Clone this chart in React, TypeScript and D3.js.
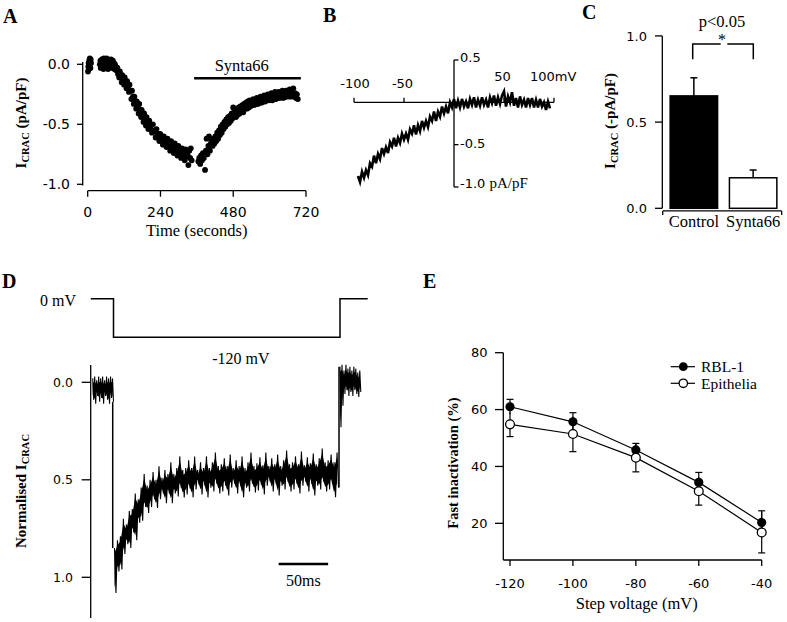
import React from 'react';
import * as d3 from 'd3';

const SERIF = '"Liberation Serif", "Times New Roman", serif';
const SANS = '"DejaVu Sans", Verdana, sans-serif';

// ---------- Panel A: I_CRAC vs time ----------
const timeTicksA = [0, 240, 480, 720];
const currentTicksA = [0, -0.5, -1.0];
const syntaWindowA = [351, 703];
const scatterA: [number, number][] = [
  [1, -0.06], [2, -0.02], [3, 0.01], [4, -0.04], [5, 0.03], [6, 0.0], [7, 0.05], [8, 0.02], [9, -0.03], [10, 0.04], [11, 0.01],
  [40, 0.0], [42, 0.03], [43, -0.03], [45, 0.01], [47, 0.04], [48, -0.02], [50, 0.02], [52, -0.04], [53, 0.05], [55, 0.0],
  [57, 0.03], [58, -0.03], [60, 0.01], [62, 0.05], [63, -0.02], [65, 0.02], [67, -0.04], [68, 0.04], [70, 0.0], [72, 0.03],
  [73, -0.03], [75, 0.01], [77, 0.04], [78, -0.02], [80, 0.02], [82, -0.01], [83, 0.03], [85, -0.03], [87, 0.01], [88, -0.04],
  [90, 0.0], [92, -0.02], [94, -0.05], [96, -0.03],
  [98, -0.03], [100, -0.08], [102, -0.06], [104, -0.11], [106, -0.06], [108, -0.1], [110, -0.09], [112, -0.15], [114, -0.09],
  [116, -0.13], [118, -0.12], [120, -0.17], [122, -0.11], [124, -0.16], [126, -0.14], [128, -0.2], [130, -0.14], [132, -0.19],
  [134, -0.17], [136, -0.23], [138, -0.17], [140, -0.22], [142, -0.22], [144, -0.29], [146, -0.22], [148, -0.28], [150, -0.27],
  [152, -0.33], [154, -0.27], [156, -0.32], [158, -0.31], [160, -0.37], [162, -0.31], [164, -0.36], [166, -0.34], [168, -0.41],
  [170, -0.33], [172, -0.39], [174, -0.38], [176, -0.44], [178, -0.38], [180, -0.43], [182, -0.41], [184, -0.48], [186, -0.41],
  [188, -0.46], [190, -0.45], [192, -0.51], [194, -0.44], [196, -0.5], [198, -0.48], [200, -0.54], [203, -0.47], [206, -0.53],
  [209, -0.51], [212, -0.57], [215, -0.5], [218, -0.56], [221, -0.55], [224, -0.61], [227, -0.54], [230, -0.6], [233, -0.58],
  [236, -0.64], [239, -0.58], [242, -0.63], [245, -0.6], [248, -0.67], [251, -0.6], [254, -0.66], [257, -0.63], [260, -0.69],
  [263, -0.62], [266, -0.68], [269, -0.66], [272, -0.72], [275, -0.64], [278, -0.7], [281, -0.68], [284, -0.74], [287, -0.66],
  [290, -0.72], [293, -0.7], [296, -0.76], [299, -0.68], [302, -0.74], [305, -0.72], [308, -0.78], [311, -0.7], [314, -0.76],
  [317, -0.73], [320, -0.8], [323, -0.71], [326, -0.77], [329, -0.75], [332, -0.84], [335, -0.72], [338, -0.78], [340, -0.7],
  [343, -0.8],
  [365, -0.81], [368, -0.78], [371, -0.83], [374, -0.76], [377, -0.8], [380, -0.74], [383, -0.78], [387, -0.88], [390, -0.72],
  [392, -0.62], [395, -0.75], [398, -0.68], [400, -0.6], [403, -0.72], [406, -0.66], [409, -0.63], [412, -0.68], [415, -0.62],
  [418, -0.66], [421, -0.6], [424, -0.64], [427, -0.57], [430, -0.62], [433, -0.55], [436, -0.59], [439, -0.52], [442, -0.57],
  [445, -0.5], [448, -0.54], [451, -0.48], [454, -0.52], [457, -0.46], [460, -0.5], [463, -0.44], [466, -0.49], [469, -0.43],
  [472, -0.47], [475, -0.41], [478, -0.45], [480, -0.36], [483, -0.43], [486, -0.39], [489, -0.44], [492, -0.38], [495, -0.42],
  [498, -0.36], [501, -0.41], [504, -0.35], [507, -0.39], [510, -0.34], [513, -0.4], [516, -0.33], [519, -0.37], [522, -0.32],
  [525, -0.37], [528, -0.31], [531, -0.36], [534, -0.3], [537, -0.35], [540, -0.31], [543, -0.34], [546, -0.29], [549, -0.34],
  [552, -0.3], [555, -0.33], [558, -0.28], [561, -0.33], [564, -0.29], [567, -0.32], [570, -0.27], [573, -0.32], [576, -0.28],
  [579, -0.31], [582, -0.26], [585, -0.31], [588, -0.27], [591, -0.3], [594, -0.25], [597, -0.3], [600, -0.26], [603, -0.29],
  [606, -0.24], [609, -0.3], [612, -0.25], [615, -0.28], [618, -0.23], [621, -0.29], [624, -0.25], [627, -0.28], [630, -0.23],
  [633, -0.28], [636, -0.24], [639, -0.27], [642, -0.22], [645, -0.28], [648, -0.24], [651, -0.27], [654, -0.22], [657, -0.27],
  [660, -0.23], [663, -0.26], [666, -0.21], [669, -0.27], [672, -0.23], [675, -0.26], [678, -0.2], [681, -0.27], [684, -0.24],
  [687, -0.28], [690, -0.25], [693, -0.29],
];

// ---------- Panel B: I-V relation ----------
const voltageTicksB = [-100, -50, 50, 100];
const currentTicksB = [0.5, -0.5, -1.0];
const ivVoltage = [
  -96, -94, -92, -90, -88, -86, -84, -82, -80, -78, -76, -74, -72, -70, -68, -66, -64, -62, -60, -58, -56, -54, -52, -50,
  -48, -46, -44, -42, -40, -38, -36, -34, -32, -30, -28, -26, -24, -22, -20, -18, -16, -14, -12, -10, -8, -6, -4, -2, 0,
  2, 4, 6, 8, 10, 12, 14, 16, 18, 20, 22, 24, 26, 28, 30, 32, 34, 36, 38, 40, 42, 44, 46, 48, 50, 52, 54, 56, 58, 60,
  62, 64, 66, 68, 70, 72, 74, 76, 78, 80, 82, 84, 86, 88, 90, 92, 94, 96,
];
const ivCurrent = [
  -0.87, -0.94, -0.82, -0.89, -0.8, -0.86, -0.72, -0.76, -0.63, -0.72, -0.61, -0.67, -0.54, -0.61, -0.53, -0.6, -0.47, -0.52,
  -0.42, -0.52, -0.42, -0.48, -0.37, -0.44, -0.37, -0.44, -0.32, -0.37, -0.27, -0.38, -0.27, -0.34, -0.22, -0.3, -0.22, -0.29,
  -0.17, -0.22, -0.11, -0.22, -0.11, -0.17, -0.05, -0.13, -0.05, -0.13, 0.0, -0.06, 0.04,
  -0.07, 0.02, -0.06, 0.04, -0.05, 0.01, -0.07, 0.04, -0.03, 0.06, -0.06, 0.03, -0.04, 0.06, -0.03, 0.03, -0.06, 0.06, -0.01,
  0.08, -0.04, 0.06, -0.02, 0.08, 0.13, -0.05, 0.07, 0.0, 0.12, -0.04, 0.05, -0.06, 0.07, -0.03, 0.03, -0.06, 0.05, -0.03,
  0.05, -0.06, 0.03, -0.06, 0.04, -0.05, 0.0, -0.09, 0.01, -0.07,
];

// ---------- Panel C: bar chart ----------
const categoriesC = ['Control', 'Synta66'];
const meansC = [0.652, 0.177];
const semC = [0.105, 0.045];
const ticksC = [0, 0.5, 1.0];

// ---------- Panel D: voltage protocol + normalised trace ----------
const protocolTime = [-23, 0, 0, 229, 229, 257];
const protocolVoltage = [0, 0, -120, -120, 0, 0];
const ticksD = [0, 0.5, 1.0];
const preTime = [-21, -19, -17, -15, -13, -11, -9, -7, -5, -3, -1];
const preTop = [-0.02, -0.03, -0.01, -0.03, -0.02, -0.03, -0.01, -0.03, -0.02, -0.03, -0.02];
const preBottom = [0.09, 0.11, 0.07, 0.1, 0.08, 0.11, 0.07, 0.09, 0.11, 0.08, 0.1];
const stepTime = [
  1, 4, 7, 10, 13, 16, 19, 22, 25, 28, 31, 34, 37, 40, 43, 46, 49, 52, 55, 58, 61, 64, 67, 70, 73, 76, 79, 82, 85, 88,
  91, 94, 97, 100, 103, 106, 109, 112, 115, 118, 121, 124, 127, 130, 133, 136, 139, 142, 145, 148, 151, 154, 157, 160,
  163, 166, 169, 172, 175, 178, 181, 184, 187, 190, 193, 196, 199, 202, 205, 208, 211, 214, 217, 220, 223, 226,
];
const stepTop = [
  0.85, 0.81, 0.79, 0.7, 0.73, 0.66, 0.65, 0.57, 0.6, 0.54, 0.47, 0.53, 0.5, 0.46, 0.5, 0.43, 0.49, 0.45, 0.47, 0.41,
  0.47, 0.44, 0.38, 0.45, 0.44, 0.4, 0.44, 0.38, 0.45, 0.41, 0.44, 0.38, 0.44, 0.41, 0.36, 0.43, 0.42, 0.39, 0.43, 0.37,
  0.44, 0.4, 0.43, 0.38, 0.44, 0.41, 0.36, 0.43, 0.415, 0.385, 0.425, 0.36, 0.43, 0.39, 0.42, 0.37, 0.43, 0.4, 0.35, 0.42,
  0.41, 0.38, 0.42, 0.355, 0.425, 0.385, 0.415, 0.365, 0.42, 0.39, 0.34, 0.41, 0.4, 0.37, 0.41, 0.36,
];
const stepBottom = [
  1.08, 0.97, 0.96, 0.88, 0.83, 0.85, 0.77, 0.81, 0.72, 0.71, 0.64, 0.67, 0.64, 0.6, 0.645, 0.6, 0.57, 0.62, 0.57, 0.62,
  0.57, 0.585, 0.54, 0.59, 0.575, 0.545, 0.59, 0.55, 0.525, 0.575, 0.53, 0.59, 0.54, 0.56, 0.52, 0.57, 0.56, 0.53, 0.58,
  0.54, 0.52, 0.57, 0.53, 0.59, 0.54, 0.56, 0.52, 0.565, 0.555, 0.525, 0.575, 0.53, 0.51, 0.56, 0.52, 0.58, 0.53, 0.55,
  0.51, 0.56, 0.55, 0.52, 0.57, 0.53, 0.51, 0.56, 0.52, 0.58, 0.53, 0.55, 0.51, 0.56, 0.55, 0.52, 0.59, 0.54,
];
const postTime = [229, 231, 233, 235, 237, 239, 241, 243, 245, 247, 249];
const postTop = [-0.08, -0.09, -0.06, -0.09, -0.07, -0.08, -0.06, -0.08, -0.07, -0.05, -0.06];
const postBottom = [0.23, 0.12, 0.06, 0.04, 0.07, 0.05, 0.07, 0.04, 0.06, 0.075, 0.05];
const scaleBarD = [167, 217];

// ---------- Panel E: fast inactivation ----------
const stepVoltageE = [-120, -100, -80, -60, -40];
const rblMean = [61.0, 55.7, 45.8, 34.4, 20.3];
const rblErr = [2.6, 3.2, 2.3, 3.5, 4.1];
const epiMean = [54.8, 51.4, 43.1, 31.3, 16.8];
const epiErr = [4.3, 6.2, 5.0, 4.9, 7.2];
const yTicksE = [20, 40, 60, 80];

const fmt1 = (v: number) => v.toFixed(1);

const PanelLetter = ({ x, y, t }: { x: number; y: number; t: string }) => (
  <text x={x} y={y} fontFamily={SERIF} fontWeight="bold" fontSize={20}>{t}</text>
);

export default function App() {
  // Scales A
  const xA = d3.scaleLinear().domain([0, 720]).range([87.7, 306]);
  const yA = d3.scaleLinear().domain([-1, 0]).range([184.3, 64.3]);
  // Scales B
  const xB = d3.scaleLinear().domain([-100, 100]).range([354, 554]);
  const yB = d3.scaleLinear().domain([-1, 0.5]).range([187, 60]);
  const ivLine = d3.line<number>().x((_, i) => xB(ivVoltage[i])).y((d) => yB(d));
  // Scales C
  const xC = d3.scaleBand().domain(categoriesC).range([666, 781]).paddingInner(0.2).paddingOuter(0.07);
  const yC = d3.scaleLinear().domain([0, 1]).range([208.3, 35.9]);
  // Scales D
  const xD = d3.scaleLinear().domain([0, 229]).range([113.5, 340]);
  const vD = d3.scaleLinear().domain([-120, 0]).range([337.3, 298.7]);
  const yD = d3.scaleLinear().domain([0, 1]).range([382.3, 577.3]);
  const protoLine = d3.line<number>().x((_, i) => xD(protocolTime[i])).y((d) => vD(d));
  // noisy recording: the trace swings between the lower and upper envelope at each sample
  const noisyTrace = (times: number[], top: number[], bottom: number[], half: number) => {
    const pts: [number, number][] = [];
    times.forEach((t, i) => {
      pts.push([xD(t), yD(top[i])]);
      pts.push([xD(t + half), yD(bottom[i])]);
    });
    return d3.line()(pts) || '';
  };
  const bandArea = (times: number[], top: number[], bottom: number[]) =>
    d3.area<number>().x((_, i) => xD(times[i])).y0((_, i) => yD(bottom[i] - 0.025)).y1((_, i) => yD(top[i] + 0.025))(times) || '';
  // Scales E
  const xE = d3.scaleLinear().domain([-120, -40]).range([510, 761.7]);
  const yE = d3.scaleLinear().domain([0, 80]).range([580.2, 352.7]);
  const lineE = (vals: number[]) => d3.line<number>().x((_, i) => xE(stepVoltageE[i])).y((d) => yE(d))(vals) || '';

  const axisStroke = { stroke: '#000', strokeWidth: 1.3, fill: 'none' } as const;

  return (
    <svg width={787} height={622} style={{ position: 'absolute', left: 0, top: 0, background: '#fff' }}>
      <rect x={0} y={0} width={787} height={622} fill="#fff" />

      {/* ===== Panel A ===== */}
      <PanelLetter x={3} y={23} t="A" />
      <line x1={82.7} x2={82.7} y1={62} y2={185.5} {...axisStroke} />
      {currentTicksA.map((v) => (
        <g key={'ay' + v}>
          <line x1={77} x2={82.7} y1={yA(v)} y2={yA(v)} {...axisStroke} />
          <text x={70} y={yA(v)} dy="0.36em" textAnchor="end" fontFamily={SANS} fontSize={14}>{fmt1(v)}</text>
        </g>
      ))}
      <line x1={xA(0)} x2={xA(720)} y1={190.7} y2={190.7} {...axisStroke} />
      {timeTicksA.map((t) => (
        <g key={'ax' + t}>
          <line x1={xA(t)} x2={xA(t)} y1={190.7} y2={196.7} {...axisStroke} />
          <text x={xA(t)} y={211.7} dy="0.36em" textAnchor="middle" fontFamily={SANS} fontSize={14}>{t}</text>
        </g>
      ))}
      <text x={196.7} y={230} dy="0.35em" textAnchor="middle" fontFamily={SERIF} fontSize={16.5}>Time (seconds)</text>
      <text transform="translate(26,123) rotate(-90)" textAnchor="middle" fontFamily={SERIF} fontWeight="bold" fontSize={15}>
        I<tspan fontSize={10.5} dy={3}>CRAC</tspan><tspan dy={-3}> (pA/pF)</tspan>
      </text>
      <line x1={xA(syntaWindowA[0])} x2={xA(syntaWindowA[1])} y1={78.3} y2={78.3} stroke="#000" strokeWidth={2.6} />
      <text x={241.7} y={65} dy="0.35em" textAnchor="middle" fontFamily={SERIF} fontSize={16.5}>Synta66</text>
      {scatterA.map(([t, v], i) => (
        <circle key={'a' + i} cx={xA(t)} cy={yA(v)} r={2.9} fill="#000" />
      ))}

      {/* ===== Panel B ===== */}
      <PanelLetter x={323} y={22} t="B" />
      <line x1={xB(-100)} x2={xB(100)} y1={yB(0)} y2={yB(0)} {...axisStroke} />
      {voltageTicksB.map((v) => (
        <line key={'bt' + v} x1={xB(v)} x2={xB(v)} y1={yB(0)} y2={yB(0) - 4.5} {...axisStroke} />
      ))}
      <line x1={xB(0)} x2={xB(0)} y1={yB(0.5)} y2={yB(-1)} {...axisStroke} />
      {currentTicksB.map((v) => (
        <line key={'bc' + v} x1={xB(0)} x2={xB(0) + 4.5} y1={yB(v)} y2={yB(v)} {...axisStroke} />
      ))}
      <text x={xB(-100) + 1} y={83.3} dy="0.36em" textAnchor="middle" fontFamily={SANS} fontSize={13}>-100</text>
      <text x={xB(-50) - 1.5} y={83.3} dy="0.36em" textAnchor="middle" fontFamily={SANS} fontSize={13}>-50</text>
      <text x={xB(50) - 1.5} y={76} dy="0.36em" textAnchor="middle" fontFamily={SANS} fontSize={13}>50</text>
      <text x={530} y={76} dy="0.36em" textAnchor="start" fontFamily={SANS} fontSize={13}>100mV</text>
      <text x={460} y={yB(0.5) - 3} dy="0.36em" fontFamily={SANS} fontSize={13}>0.5</text>
      <text x={460} y={yB(-0.5) - 1} dy="0.36em" fontFamily={SANS} fontSize={13}>-0.5</text>
      <text x={460} y={yB(-1) - 4} dy="0.36em" fontFamily={SANS} fontSize={13}>-1.0 <tspan fontFamily={SERIF} fontSize={15}>pA/pF</tspan></text>
      <path d={ivLine(ivCurrent) || ''} fill="none" stroke="#000" strokeWidth={2.6} strokeLinejoin="miter" />

      {/* ===== Panel C ===== */}
      <PanelLetter x={582} y={19} t="C" />
      <line x1={662.3} x2={662.3} y1={yC(1)} y2={yC(0)} {...axisStroke} />
      {ticksC.map((v) => (
        <g key={'cy' + v}>
          <line x1={655} x2={662.3} y1={yC(v)} y2={yC(v)} {...axisStroke} />
          <text x={647} y={yC(v)} dy="0.36em" textAnchor="end" fontFamily={SANS} fontSize={13}>{fmt1(v)}</text>
        </g>
      ))}
      <line x1={662.7} x2={781.7} y1={210.9} y2={210.9} {...axisStroke} />
      <line x1={662.7} x2={662.7} y1={210.9} y2={215} {...axisStroke} />
      <line x1={781.7} x2={781.7} y1={210.9} y2={215} {...axisStroke} />
      {categoriesC.map((c, i) => {
        const x0 = xC(c) as number;
        const w = xC.bandwidth();
        const cx = x0 + w / 2;
        return (
          <g key={'c' + c}>
            <line x1={cx} x2={cx} y1={yC(meansC[i])} y2={yC(meansC[i] + semC[i])} stroke="#000" strokeWidth={1.5} />
            <line x1={cx - 3.5} x2={cx + 3.5} y1={yC(meansC[i] + semC[i])} y2={yC(meansC[i] + semC[i])} stroke="#000" strokeWidth={1.5} />
            <rect x={x0} y={yC(meansC[i])} width={w} height={yC(0) - yC(meansC[i])}
              fill={i === 0 ? '#000' : '#fff'} stroke="#000" strokeWidth={1.5} />
            <text x={cx} y={221.7} dy="0.35em" textAnchor="middle" fontFamily={SERIF} fontSize={16.5}>{c}</text>
          </g>
        );
      })}
      <path d="M692.7,59.3 V44 H720.7 M727.3,44 H753.3 V59.3" fill="none" stroke="#000" strokeWidth={1.5} />
      <text x={722} y={21.5} dy="0.35em" textAnchor="middle" fontFamily={SERIF} fontSize={16.5}>p&lt;0.05</text>
      <text x={722} y={45} textAnchor="middle" fontFamily={SERIF} fontSize={16}>*</text>
      <text transform="translate(615,121) rotate(-90)" textAnchor="middle" fontFamily={SERIF} fontWeight="bold" fontSize={15}>
        I<tspan fontSize={10.5} dy={3}>CRAC</tspan><tspan dy={-3}> (-pA/pF)</tspan>
      </text>

      {/* ===== Panel D ===== */}
      <PanelLetter x={2} y={288} t="D" />
      <text x={40} y={300} dy="0.35em" fontFamily={SERIF} fontSize={16}>0 mV</text>
      <path d={protoLine(protocolVoltage) || ''} fill="none" stroke="#000" strokeWidth={1.5} />
      <text x={240.8} y={358.3} dy="0.35em" textAnchor="middle" fontFamily={SERIF} fontSize={16}>-120 mV</text>
      <line x1={90.7} x2={90.7} y1={365} y2={618} {...axisStroke} />
      {ticksD.map((v) => (
        <g key={'dy' + v}>
          <line x1={81.7} x2={90.7} y1={yD(v)} y2={yD(v)} {...axisStroke} />
          <text x={73} y={yD(v)} dy="0.36em" textAnchor="end" fontFamily={SANS} fontSize={12.5}>{fmt1(v)}</text>
        </g>
      ))}
      <text transform="translate(26,491) rotate(-90)" textAnchor="middle" fontFamily={SERIF} fontWeight="bold" fontSize={15}>
        Normalised I<tspan fontSize={10.5} dy={3}>CRAC</tspan>
      </text>
      <path d={bandArea(preTime, preTop, preBottom)} fill="#000" />
      <path d={bandArea(stepTime, stepTop, stepBottom)} fill="#000" />
      <path d={bandArea(postTime, postTop, postBottom)} fill="#000" />
      <path d={noisyTrace(preTime, preTop, preBottom, 1)} fill="none" stroke="#000" strokeWidth={1.1} />
      <path d={noisyTrace(stepTime, stepTop, stepBottom, 1.5)} fill="none" stroke="#000" strokeWidth={1.1} />
      <path d={noisyTrace(postTime, postTop, postBottom, 1)} fill="none" stroke="#000" strokeWidth={1.1} />
      <line x1={xD(-0.8)} x2={xD(-0.8)} y1={yD(preBottom[preBottom.length - 1])} y2={yD(stepTop[0])} stroke="#000" strokeWidth={1.5} />
      <line x1={xD(228)} x2={xD(228)} y1={yD(stepBottom[stepBottom.length - 1])} y2={yD(postTop[0])} stroke="#000" strokeWidth={1.5} />
      <line x1={xD(scaleBarD[0])} x2={xD(scaleBarD[1])} y1={564} y2={564} stroke="#000" strokeWidth={2.4} />
      <text x={(xD(scaleBarD[0]) + xD(scaleBarD[1])) / 2} y={580} dy="0.35em" textAnchor="middle" fontFamily={SERIF} fontSize={16}>50ms</text>

      {/* ===== Panel E ===== */}
      <PanelLetter x={423} y={288} t="E" />
      <line x1={503.3} x2={503.3} y1={yE(80)} y2={560} {...axisStroke} />
      {yTicksE.map((v) => (
        <g key={'ey' + v}>
          <line x1={495} x2={503.3} y1={yE(v)} y2={yE(v)} {...axisStroke} />
          <text x={487.5} y={yE(v)} dy="0.36em" textAnchor="end" fontFamily={SANS} fontSize={13}>{v}</text>
        </g>
      ))}
      <line x1={503.3} x2={xE(-40)} y1={560} y2={560} {...axisStroke} />
      {stepVoltageE.map((v) => (
        <g key={'ex' + v}>
          <line x1={xE(v)} x2={xE(v)} y1={560} y2={566} {...axisStroke} />
          <text x={xE(v)} y={583} dy="0.36em" textAnchor="middle" fontFamily={SANS} fontSize={13}>{v}</text>
        </g>
      ))}
      <text x={636.7} y={603} dy="0.35em" textAnchor="middle" fontFamily={SERIF} fontSize={16.5}>Step voltage (mV)</text>
      <text transform="translate(458,463) rotate(-90)" textAnchor="middle" fontFamily={SERIF} fontWeight="bold" fontSize={14.5}>
        Fast inactivation (%)
      </text>
      <path d={lineE(rblMean)} fill="none" stroke="#000" strokeWidth={1.2} />
      <path d={lineE(epiMean)} fill="none" stroke="#000" strokeWidth={1.2} />
      {stepVoltageE.map((v, i) => (
        <g key={'eb' + v}>
          <line x1={xE(v)} x2={xE(v)} y1={yE(rblMean[i] - rblErr[i])} y2={yE(rblMean[i] + rblErr[i])} stroke="#000" strokeWidth={1.2} />
          <line x1={xE(v) - 3.5} x2={xE(v) + 3.5} y1={yE(rblMean[i] + rblErr[i])} y2={yE(rblMean[i] + rblErr[i])} stroke="#000" strokeWidth={1.2} />
          <line x1={xE(v)} x2={xE(v)} y1={yE(epiMean[i] - epiErr[i])} y2={yE(epiMean[i] + epiErr[i])} stroke="#000" strokeWidth={1.2} />
          <line x1={xE(v) - 3.5} x2={xE(v) + 3.5} y1={yE(epiMean[i] - epiErr[i])} y2={yE(epiMean[i] - epiErr[i])} stroke="#000" strokeWidth={1.2} />
        </g>
      ))}
      {stepVoltageE.map((v, i) => (
        <g key={'em' + v}>
          <circle cx={xE(v)} cy={yE(rblMean[i])} r={4.6} fill="#000" />
          <circle cx={xE(v)} cy={yE(epiMean[i])} r={4.4} fill="#fff" stroke="#000" strokeWidth={1.3} />
        </g>
      ))}
      {/* legend */}
      <line x1={670.7} x2={695} y1={366.7} y2={366.7} stroke="#000" strokeWidth={1.2} />
      <circle cx={683.3} cy={366.7} r={4.4} fill="#000" />
      <text x={701} y={366.2} dy="0.35em" fontFamily={SERIF} fontSize={15.5}>RBL-1</text>
      <line x1={670.7} x2={695} y1={383.3} y2={383.3} stroke="#000" strokeWidth={1.2} />
      <circle cx={683.3} cy={383.3} r={4.2} fill="#fff" stroke="#000" strokeWidth={1.3} />
      <text x={701} y={383.8} dy="0.35em" fontFamily={SERIF} fontSize={15.5}>Epithelia</text>
    </svg>
  );
}
